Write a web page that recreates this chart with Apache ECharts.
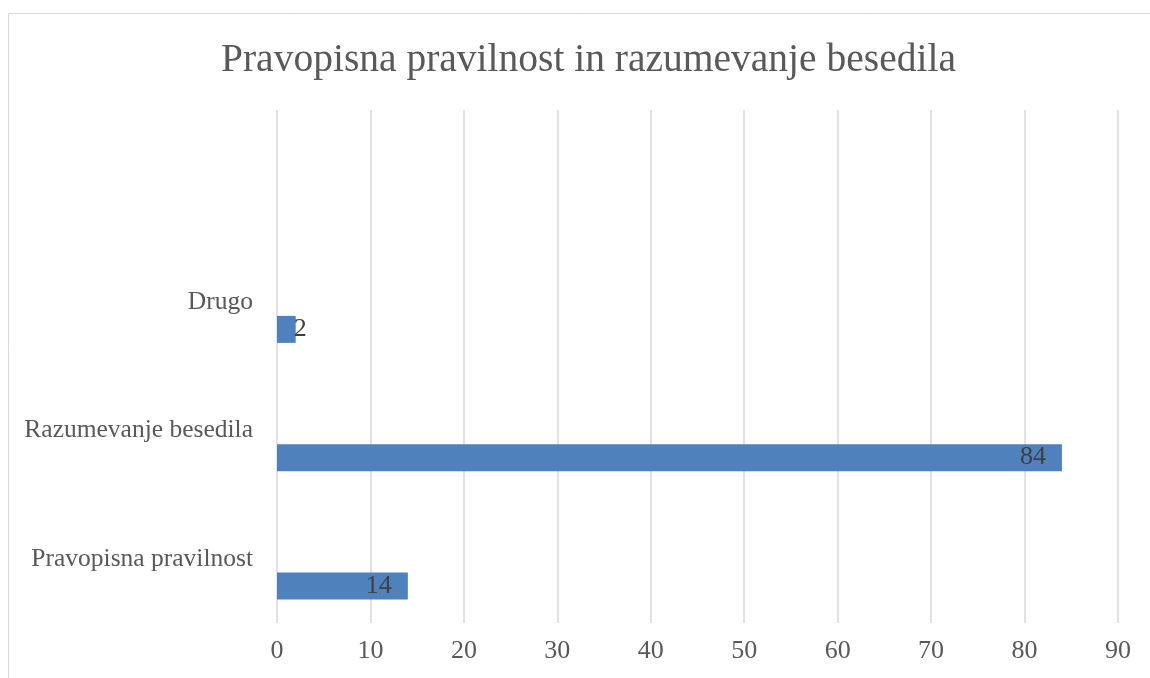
<!DOCTYPE html>
<html>
<head>
<meta charset="utf-8">
<script src="https://cdn.jsdelivr.net/npm/echarts@6/dist/echarts.min.js"></script>
<style>
  html, body { margin: 0; padding: 0; background: #fff; }
  #chart { width: 1150px; height: 678px; }
</style>
</head>
<body>
<div id="chart"></div>
<script>
// podatki grafa
var categories = ["Pravopisna pravilnost", "Razumevanje besedila", "Drugo", ""];
var values = [14, 84, 2, null];
var xTicks = { min: 0, max: 90, interval: 10 };

var serifFont = "Liberation Serif";

var chart = echarts.init(document.getElementById("chart"));

// majhne vrednosti: oznaka ne gre v stolpec, zato jo zamaknemo
var barData = values.map(function (v) {
  if (v !== null && v < 5) {
    return { value: v, label: { position: "right", distance: -2 } };
  }
  return v;
});

var option = {
  animation: false,
  backgroundColor: "#fff",
  title: {
    text: "Pravopisna pravilnost in razumevanje besedila",
    left: 216,
    top: 36,
    textStyle: {
      fontFamily: serifFont,
      fontSize: 39.5,
      fontWeight: "normal",
      color: "#595959",
    },
  },
  graphic: [
    {
      type: "rect",
      shape: { x: 8.5, y: 13.5, width: 1300, height: 800 },
      style: { fill: "none", stroke: "#d9d9d9", lineWidth: 1 },
      silent: true,
    },
  ],
  grid: {
    left: 277,
    right: 32,
    top: 110,
    bottom: 55,
  },
  xAxis: {
    type: "value",
    min: xTicks.min,
    max: xTicks.max,
    interval: xTicks.interval,
    axisLine: { show: false },
    axisTick: { show: false },
    axisLabel: {
      margin: 15,
      fontFamily: serifFont,
      fontSize: 26,
      color: "#595959",
    },
    splitLine: {
      show: true,
      lineStyle: { color: "#d9d9d9", width: 1.5 },
    },
  },
  yAxis: {
    type: "category",
    data: categories,
    axisLine: { show: false },
    axisTick: { show: false },
    splitLine: { show: false },
    axisLabel: {
      margin: 24,
      fontFamily: serifFont,
      fontSize: 25.5,
      color: "#595959",
    },
  },
  series: [
    {
      // prazna serija (kot v izvirniku)
      type: "bar",
      data: [null, null, null, null],
      barWidth: 27,
      barGap: "100%",
    },
    {
      type: "bar",
      data: barData,
      barWidth: 27,
      barGap: "100%",
      itemStyle: { color: "#4f81bd" },
      label: {
        show: true,
        position: "insideRight",
        distance: 16,
        fontFamily: serifFont,
        fontSize: 26,
        color: "#404040",
      },
    },
  ],
};

chart.setOption(option);
</script>
</body>
</html>
